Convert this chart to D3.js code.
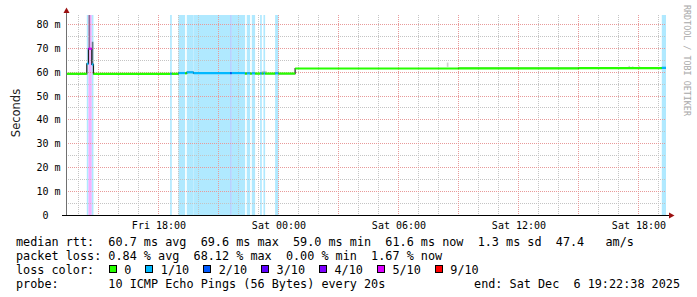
<!DOCTYPE html>
<html>
<head>
<meta charset="utf-8">
<script src="https://cdn.jsdelivr.net/npm/d3@7"></script>
<style>
	body { margin: 0; background: #fff; }
	svg { display: block; }
	text { font-family: "DejaVu Sans Mono", monospace; fill: #000; }
</style>
</head>
<body>
<svg id="smokeping-svg" width="697" height="297"></svg>
<script>
const parseTime = d3.timeParse('%Y-%m-%d %H:%M');
const graphStart = new Date(2025, 11, 5, 13, 22, 38);
const graphEnd = new Date(2025, 11, 6, 19, 22, 38);

// each step lasts until the next one starts (5 min rrd steps)
const stepTimes = [
	'2025-12-05 13:20', '2025-12-05 14:25', '2025-12-05 14:30', '2025-12-05 14:40',
	'2025-12-05 14:45', '2025-12-05 18:35', '2025-12-05 18:40', '2025-12-05 19:00',
	'2025-12-05 19:20', '2025-12-05 19:25', '2025-12-05 19:45', '2025-12-05 21:35',
	'2025-12-05 21:40', '2025-12-05 22:20', '2025-12-05 22:25', '2025-12-05 22:35',
	'2025-12-05 22:40', '2025-12-05 22:50', '2025-12-05 23:05', '2025-12-05 23:10',
	'2025-12-05 23:15', '2025-12-05 23:20', '2025-12-05 23:50', '2025-12-06 00:00',
	'2025-12-06 00:50', '2025-12-06 09:00', '2025-12-06 15:00', '2025-12-06 19:10'
];
const medianMs = [
	59.1, 63.3, 69.6, 63.0,
	59.1, 59.2, 59.1, 59.4,
	59.3, 59.7, 59.4, 59.4,
	59.4, 59.2, 59.3, 59.2,
	59.3, 59.2, 59.3, 59.2,
	59.3, 59.2, 59.3, 59.2,
	61.3, 61.4, 61.5, 61.6
];
const lostPings = [
	0, 1, 5, 1,
	0, 1, 0, 1,
	0, 1, 1, 2,
	1, 0, 1, 0,
	1, 0, 1, 0,
	1, 0, 1, 0,
	0, 0, 0, 1
];

// smoke: spread of the single pings where it is visible
const smokeTimes = [
	'2025-12-05 14:30', '2025-12-05 14:40', '2025-12-05 14:40', '2025-12-05 23:10',
	'2025-12-05 23:15', '2025-12-05 23:20', '2025-12-06 08:25', '2025-12-06 17:30',
	'2025-12-06 17:40', '2025-12-06 18:00'
];
const smokeLowMs = [69.6, 62.8, 69.3, 59.6, 59.6, 59.6, 62.0, 61.7, 61.7, 61.7];
const smokeHighMs = [84.0, 69.3, 72.5, 60.3, 60.2, 60.3, 63.8, 62.4, 62.2, 62.3];
const smokePings = [4, 3, 5, 1, 1, 1, 1, 1, 1, 1];

const lossLevels = [0, 1, 2, 3, 4, 5, 9];
const lossLabels = ['0', '1/10', '2/10', '3/10', '4/10', '5/10', '9/10'];
const lossColors = ['#26ff00', '#00b8ff', '#0059ff', '#5e00ff', '#7e00ff', '#dd00ff', '#ff0000'];

const yTicks = [0, 10, 20, 30, 40, 50, 60, 70, 80];
const yTickLabels = ['0  ', '10 m', '20 m', '30 m', '40 m', '50 m', '60 m', '70 m', '80 m'];
const xLabelTimes = ['2025-12-05 18:00', '2025-12-06 00:00', '2025-12-06 06:00', '2025-12-06 12:00', '2025-12-06 18:00'];
const xLabelText = ['Fri 18:00', 'Sat 00:00', 'Sat 06:00', 'Sat 12:00', 'Sat 18:00'];

const rttStats = ['60.7 ms avg', '69.6 ms max', '59.0 ms min', '61.6 ms now', '1.3 ms sd', '47.4   am/s'];
const lossStats = ['0.84 % avg', '68.12 % max', '0.00 % min', '1.67 % now'];
const probeText = '10 ICMP Echo Pings (56 Bytes) every 20s';
const endText = 'end: Sat Dec  6 19:22:38 2025';

const plotLeft = 66, plotRight = 666, plotTop = 15, plotBottom = 215;
const charW = 7.1;

const svg = d3.select('#smokeping-svg');

const x = d3.scaleTime().domain([graphStart, graphEnd]).range([plotLeft, plotRight]);
const y = d3.scaleLinear().domain([0, 83.7]).range([plotBottom, plotTop]);

const crisp = (v) => Math.round(v) + 0.5;

function lossColor(n) {
	let idx = 0;
	lossLevels.forEach((lv, i) => { if (n >= lv) idx = i; });
	return lossColors[idx];
}

const steps = stepTimes.map((t, i) => {
	const t0 = parseTime(t);
	const t1 = i < stepTimes.length - 1 ? parseTime(stepTimes[i + 1]) : graphEnd;
	return {
		start: t0 < graphStart ? graphStart : t0,
		end: t1,
		median: medianMs[i],
		loss: lostPings[i]
	};
});

svg.append('clipPath').attr('id', 'plot-clip')
	.append('rect')
	.attr('x', plotLeft).attr('y', plotTop)
	.attr('width', plotRight - plotLeft).attr('height', plotBottom - plotTop);

const background = svg.append('g').attr('clip-path', 'url(#plot-clip)');
const grid = svg.append('g').attr('class', 'grid');
const foreground = svg.append('g').attr('clip-path', 'url(#plot-clip)');

// loss background bars
background.append('g').attr('class', 'loss-bars')
	.selectAll('rect')
	.data(steps.filter((d) => d.loss > 0))
	.enter().append('rect')
	.attr('x', (d) => x(d.start))
	.attr('width', (d) => x(d.end) - x(d.start))
	.attr('y', plotTop)
	.attr('height', plotBottom - plotTop)
	.style('fill', (d) => d3.interpolateRgb('#ffffff', lossColor(d.loss))(0.31));

// smoke
background.append('g').attr('class', 'smoke')
	.selectAll('rect')
	.data(smokeTimes.map((t, i) => ({ t: parseTime(t), lo: smokeLowMs[i], hi: smokeHighMs[i], n: smokePings[i] })))
	.enter().append('rect')
	.attr('x', (d) => x(d.t))
	.attr('width', (d) => x(d3.timeMinute.offset(d.t, 5)) - x(d.t))
	.attr('y', (d) => y(d.hi))
	.attr('height', (d) => y(d.lo) - y(d.hi))
	.style('fill', '#000')
	.style('opacity', (d) => 0.12 + d.n * 0.07);

// grid
const minorY = d3.range(5, 84, 10);
grid.selectAll('.grid-minor-y')
	.data(minorY)
	.enter().append('line')
	.attr('class', 'grid-minor-y')
	.attr('x1', plotLeft).attr('x2', plotRight)
	.attr('y1', (d) => crisp(y(d))).attr('y2', (d) => crisp(y(d)))
	.style('stroke', '#c4c4c4').style('stroke-dasharray', '1,1');

const hours = d3.timeHour.range(graphStart, graphEnd);
grid.selectAll('.grid-minor-x')
	.data(hours.filter((h) => h.getHours() % 3 !== 0))
	.enter().append('line')
	.attr('class', 'grid-minor-x')
	.attr('x1', (d) => crisp(x(d))).attr('x2', (d) => crisp(x(d)))
	.attr('y1', plotTop).attr('y2', plotBottom)
	.style('stroke', '#c4c4c4').style('stroke-dasharray', '1,1');

grid.selectAll('.grid-major-y')
	.data(yTicks.filter((d) => d > 0))
	.enter().append('line')
	.attr('class', 'grid-major-y')
	.attr('x1', plotLeft).attr('x2', plotRight)
	.attr('y1', (d) => crisp(y(d))).attr('y2', (d) => crisp(y(d)))
	.style('stroke', '#e89a9a').style('stroke-dasharray', '1,1');

grid.selectAll('.grid-major-x')
	.data(hours.filter((h) => h.getHours() % 3 === 0))
	.enter().append('line')
	.attr('class', 'grid-major-x')
	.attr('x1', (d) => crisp(x(d))).attr('x2', (d) => crisp(x(d)))
	.attr('y1', plotTop).attr('y2', plotBottom)
	.style('stroke', '#e89a9a').style('stroke-dasharray', '1,1');

// median: dark step line underneath, loss coloured band on top
const stepPoints = steps.map((d) => [x(d.start), y(d.median)]);
stepPoints.push([x(graphEnd), y(steps[steps.length - 1].median)]);
foreground.append('path')
	.attr('d', d3.line().curve(d3.curveStepAfter)(stepPoints))
	.style('fill', 'none')
	.style('stroke', '#202020')
	.style('stroke-width', 1.2);

foreground.append('g').attr('class', 'median')
	.selectAll('line')
	.data(steps)
	.enter().append('line')
	.attr('x1', (d) => x(d.start))
	.attr('x2', (d) => x(d.end))
	.attr('y1', (d) => y(d.median))
	.attr('y2', (d) => y(d.median))
	.style('stroke', (d) => lossColor(d.loss))
	.style('stroke-width', 2.2);

// axes
svg.append('line')
	.attr('x1', plotLeft + 0.5).attr('x2', plotLeft + 0.5)
	.attr('y1', 10).attr('y2', plotBottom)
	.style('stroke', '#707070');
svg.append('line')
	.attr('x1', plotLeft - 4).attr('x2', plotRight + 3)
	.attr('y1', plotBottom + 0.5).attr('y2', plotBottom + 0.5)
	.style('stroke', '#000');
svg.append('path')
	.attr('d', `M${plotLeft + 0.5},7.5 L${plotLeft + 3.5},13 L${plotLeft - 2.5},13 Z`)
	.style('fill', '#9b1010');
svg.append('path')
	.attr('d', `M${plotRight + 8.5},${plotBottom + 0.5} L${plotRight + 3},${plotBottom - 2.5} L${plotRight + 3},${plotBottom + 3.5} Z`)
	.style('fill', '#9b1010');

svg.selectAll('.y-label')
	.data(yTicks)
	.enter().append('text')
	.attr('class', 'y-label')
	.attr('x', 60.5)
	.attr('y', (d) => crisp(y(d)) + 3.6)
	.attr('text-anchor', 'end')
	.attr('xml:space', 'preserve')
	.style('font-size', '10px')
	.style('white-space', 'pre')
	.text((d, i) => yTickLabels[i]);

svg.selectAll('.x-label')
	.data(xLabelTimes)
	.enter().append('text')
	.attr('class', 'x-label')
	.attr('x', (d) => x(parseTime(d)) + 0.5)
	.attr('y', 228.5)
	.attr('text-anchor', 'middle')
	.style('font-size', '10px')
	.text((d, i) => xLabelText[i]);

svg.append('text')
	.attr('transform', 'translate(19.5,113) rotate(-90)')
	.attr('text-anchor', 'middle')
	.style('font-family', '"DejaVu Sans", sans-serif')
	.style('font-size', '11.5px')
	.style('fill', '#222')
	.text('Seconds');

svg.append('text')
	.attr('transform', 'translate(684,5) rotate(90)')
	.style('font-size', '8.4px')
	.style('fill', '#a8a8a8')
	.text('RRDTOOL / TOBI OETIKER');

// legend
const legend = svg.append('g').attr('class', 'legend')
	.style('font-size', '11.8px');
const legendLines = [
	'median rtt:  ' + rttStats.join('  '),
	'packet loss: ' + lossStats.join('  '),
	'loss color:',
	'probe:       ' + probeText
];
legend.selectAll('.legend-line')
	.data(legendLines)
	.enter().append('text')
	.attr('class', 'legend-line')
	.attr('x', 16)
	.attr('y', (d, i) => 245.5 + i * 14)
	.attr('xml:space', 'preserve')
	.style('white-space', 'pre')
	.text((d) => d);

legend.append('text')
	.attr('x', 680)
	.attr('y', 245.5 + 3 * 14)
	.attr('text-anchor', 'end')
	.attr('xml:space', 'preserve')
	.style('white-space', 'pre')
	.text(endText);

let boxX = 108.7;
lossLabels.forEach((label, i) => {
	legend.append('rect')
		.attr('x', Math.round(boxX) + 0.5)
		.attr('y', 265.5)
		.attr('width', 7)
		.attr('height', 7)
		.style('fill', lossColors[i])
		.style('stroke', '#000');
	legend.append('text')
		.attr('x', boxX + 15.5)
		.attr('y', 273.5)
		.text(label);
	boxX += 15.5 + label.length * charW + 14;
});
</script>
</body>
</html>
